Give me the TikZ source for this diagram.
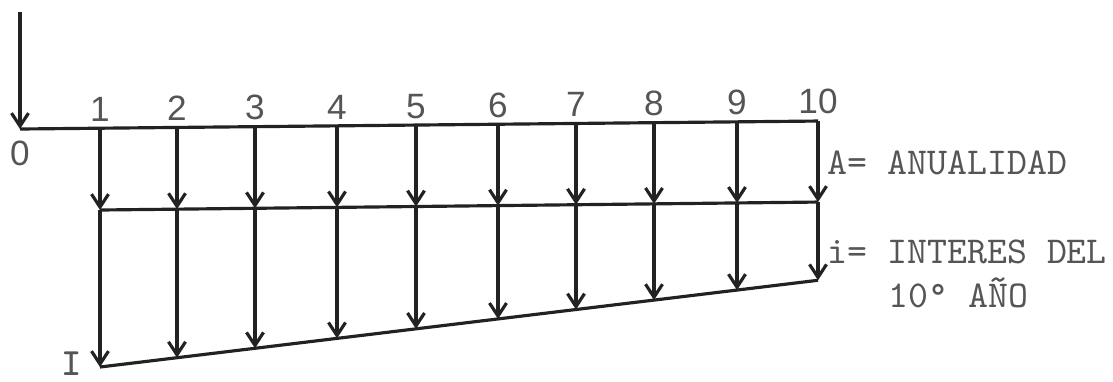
\documentclass[tikz,border=0pt]{standalone}
\usepackage{fontspec}
\setmainfont{Liberation Sans}
\usetikzlibrary{arrows.meta,positioning}
\definecolor{ink}{HTML}{222222}
\definecolor{typed}{HTML}{555555}
\tikzset{
  axis/.style={draw=ink, line width=0.9pt},
  flow/.style={axis, -{Straight Barb[length=1.3mm,width=1.7mm,line width=0.9pt]}},
  yearlbl/.style={font=\fontsize{10}{12}\selectfont, text=typed, inner sep=0pt, anchor=south},
  note/.style={font=\ttfamily\fontsize{10.8}{12}\selectfont, text=typed, inner sep=0pt, anchor=west},
}

\begin{document}
\begin{tikzpicture}[x=0.01cm, y=-0.01cm]
  \useasboundingbox (0,0) rectangle (1113,381);
  \coordinate (start) at (20,12);
  \coordinate (o) at (20,129);
  \node[yearlbl, anchor=center] (zero) at (20,153) {0};
  \draw[flow] (start) -- (o);
  % years 1..10: payment A down to the middle line, interest i down to the slanted line
  \foreach \x [count=\k] in {100,177,255,337,416,498,576,654,737,818} {
    \pgfmathsetmacro\yt{129-0.01*(\x-20)}
    \pgfmathsetmacro\ym{210-0.0111*(\x-100)}
    \pgfmathsetmacro\yb{367-0.1208*(\x-100)}
    \coordinate (t\k) at (\x,\yt);
    \coordinate (m\k) at (\x,\ym);
    \coordinate (b\k) at (\x,\yb);
    \node[yearlbl] (n\k) at (\x,\yt-6) {\k};
    \draw[flow] (t\k) -- (m\k);
    \draw[flow] (m\k) -- (b\k);
  }
  \draw[axis] (o) -- (t10);
  \draw[axis] (m1) -- (m10);
  \draw[axis] (b1) -- (b10);
  \node[font=\ttfamily\bfseries\fontsize{11}{12}\selectfont, text=typed, inner sep=0pt] (total) at (72,364) {I};
  \node[note] (annuity) at (827,163) {A= ANUALIDAD};
  \node[note] (interest) at (827,252) {i= INTERES DEL};
  \node[note] (year) at (888,293) {10° AÑO};
\end{tikzpicture}
\end{document}
